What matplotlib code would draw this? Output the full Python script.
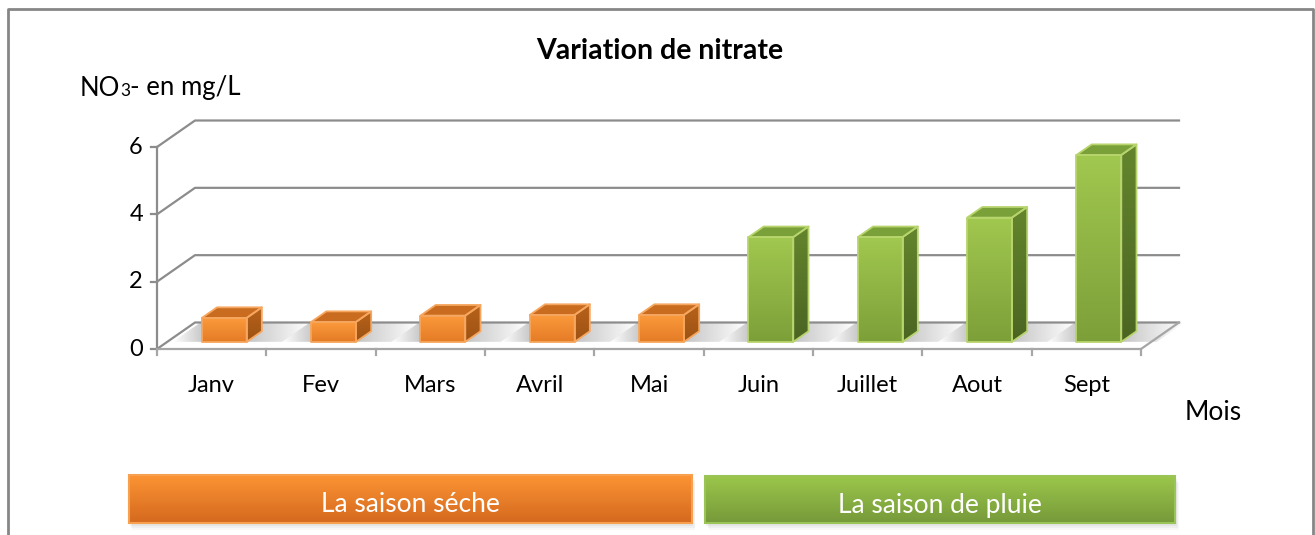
import numpy as np
import matplotlib.pyplot as plt
from matplotlib.patches import Polygon, Rectangle
from matplotlib.colors import LinearSegmentedColormap
from matplotlib.offsetbox import TextArea, HPacker, AnnotationBbox

# donnees
mois = ["Janv", "Fev", "Mars", "Avril", "Mai", "Juin", "Juillet", "Aout", "Sept"]
nitrate = [0.71, 0.59, 0.78, 0.8, 0.8, 3.11, 3.11, 3.69, 5.55]
saison = [0, 0, 0, 0, 0, 1, 1, 1, 1]
noms_saisons = ["La saison séche", "La saison de pluie"]
graduations = [0, 2, 4, 6]

plt.rcParams['font.family'] = ['Lato', 'DejaVu Sans']

W, H = 1315, 535
fig = plt.figure(figsize=(W / 100, H / 100), dpi=100)
ax = fig.add_axes([0, 0, 1, 1])

# echelle : 0..9 categories entre 157 et 1141 px, 0..6 entre 349 et 147 px
sx = 9 / (1141 - 157)
sy = 6 / (349 - 147)
ax.set_xlim(-157 * sx, 9 + (W - 1141) * sx)
ax.set_ylim(-(H - 349) * sy, 6 + 147 * sy)
ax.axis('off')

DX = 38 * sx    # profondeur du plancher
DY = 26.5 * sy


def px(x, y):
    # pixels (origine en haut a gauche) -> donnees
    return (x - 157) * sx, (349 - y) * sy


def shade(verts, colors, horizontal=False, zorder=2):
    verts = np.asarray(verts)
    x0, y0 = verts.min(axis=0)
    x1, y1 = verts.max(axis=0)
    cmap = LinearSegmentedColormap.from_list('g', colors)
    g = np.linspace(0, 1, 256)
    arr = g[None, :] if horizontal else g[:, None]
    im = ax.imshow(arr, cmap=cmap, extent=(x0, x1, y0, y1), origin='upper',
                   aspect='auto', interpolation='bilinear', zorder=zorder)
    clip = Polygon(verts, closed=True, transform=ax.transData,
                   facecolor='none', edgecolor='none')
    im.set_clip_path(clip)
    return im


def P(x, v, d):
    return (x + d * DX, v + d * DY)


grid_c = '#8c8c8c'

# plancher
floor = [(0, 0), (9, 0), (9 + DX, DY), (DX, DY)]
ax.add_patch(Polygon(floor, closed=True, facecolor='white', edgecolor='none', zorder=1))
ax.plot([0, 9, 9 + DX], [0, 0, DY], color='#a6a6a6', lw=1.6, zorder=1.5)

# quadrillage (mur du fond et cote gauche)
for v in graduations:
    ax.plot([0, DX, 9 + DX], [v, v + DY, v + DY], color=grid_c, lw=1.6, zorder=1.2)

# axe vertical et graduations
ax.plot([0, 0], [0, 6], color=grid_c, lw=1.6, zorder=1.5)
for v in graduations:
    ax.plot([-6 * sx, 0], [v, v], color=grid_c, lw=1.6, zorder=1.5)
    ax.text(-14 * sx, v, str(v), ha='right', va='center', fontsize=17, color='black')
for i in range(len(mois) + 1):
    ax.plot([i, i], [0, -6 * sy], color='#a6a6a6', lw=1.6, zorder=1.5)
for i, m in enumerate(mois):
    ax.text(i + 0.5, -36 * sy, m, ha='center', va='center', fontsize=17, color='black')

# barres 3D
styles = [
    dict(front=['#fb9a3c', '#e47b25'], top='#c96c1f', side=['#b8621a', '#9c5214'],
         edge='#f6a65e'),
    dict(front=['#a1c84f', '#7d9f39'], top='#7aa03a', side=['#64852d', '#4b6522'],
         edge='#b7d46d'),
]
bw = 0.41
d0, d1 = 0.27, 0.67
for i, v in enumerate(nitrate):
    st = styles[saison[i]]
    x0 = i + 0.316
    x1 = x0 + bw
    # ombre sur le plancher
    sh = [P(i + 0.05, 0, d0), P(i + 1.05, 0, d0), P(i + 1.05, 0, 1.0), P(i + 0.05, 0, 1.0)]
    shade(sh, [(0.0, (0.45, 0.45, 0.45, 0.0)), (0.3, (0.45, 0.45, 0.45, 0.55)),
               (0.55, (0.45, 0.45, 0.45, 0.4)), (1.0, (0.45, 0.45, 0.45, 0.0))],
          horizontal=True, zorder=1.1)
    front = [P(x0, 0, d0), P(x1, 0, d0), P(x1, v, d0), P(x0, v, d0)]
    top = [P(x0, v, d0), P(x1, v, d0), P(x1, v, d1), P(x0, v, d1)]
    side = [P(x1, 0, d0), P(x1, 0, d1), P(x1, v, d1), P(x1, v, d0)]
    shade(front, st['front'], zorder=3)
    shade(side, st['side'], zorder=3)
    ax.add_patch(Polygon(top, closed=True, facecolor=st['top'], edgecolor='none', zorder=3))
    for poly in (front, side, top):
        ax.add_patch(Polygon(poly, closed=True, facecolor='none', edgecolor=st['edge'],
                             lw=1.3, joinstyle='round', zorder=3.5))

# titres
fig.text(660 / W, 1 - 51 / H, "Variation de nitrate", ha='center', va='center',
         fontsize=20.5, fontweight='bold')
fig.text(1213 / W, 1 - 412 / H, "Mois", ha='center', va='center', fontsize=19)
lab = HPacker(children=[TextArea("NO", textprops=dict(fontsize=18.5)),
                        TextArea("3", textprops=dict(fontsize=12.5)),
                        TextArea("- en mg/L", textprops=dict(fontsize=18.5))],
              align='baseline', pad=0, sep=0)
ax.add_artist(AnnotationBbox(lab, (80, H - 88), xycoords='figure pixels',
                             box_alignment=(0, 0.5), frameon=False, pad=0))

# bandeaux des saisons
boxes = [((129, 475, 692, 523), ['#fd9535', '#d4691e'], '#f7a050'),
         ((705, 476, 1175, 523), ['#9cc84b', '#76993a'], '#9bc457')]
for k, ((bx0, by0, bx1, by1), cols, ec) in enumerate(boxes):
    for off, a in [(7, 0.05), (5, 0.07), (3, 0.09)]:
        xa, ya = px(bx0 + off / 2, by1 + off)
        xb, yb = px(bx1 + off / 2, by0 + off)
        ax.add_patch(Rectangle((xa, ya), xb - xa, yb - ya, facecolor='#7f7f7f',
                               alpha=a, edgecolor='none', zorder=4))
    xa, ya = px(bx0, by1)
    xb, yb = px(bx1, by0)
    shade([(xa, ya), (xb, ya), (xb, yb), (xa, yb)], cols, zorder=5)
    ax.add_patch(Rectangle((xa, ya), xb - xa, yb - ya, facecolor='none',
                           edgecolor=ec, lw=1.5, zorder=5.5))
    ax.text((xa + xb) / 2, (ya + yb) / 2 - 6 * sy, noms_saisons[k], ha='center',
            va='center', color='white', fontsize=19, zorder=6)

# cadre
fig.lines.append(plt.Line2D([8 / W, 8 / W, 1313 / W, 1313 / W], [0, 1 - 9 / H, 1 - 9 / H, 0],
                            transform=fig.transFigure, color='#868686', lw=2))

fig.savefig('out.png', dpi=100, facecolor='white')
